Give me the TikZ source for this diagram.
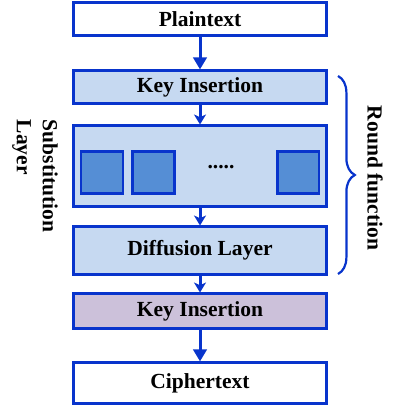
\documentclass[tikz,border=0pt]{standalone}
\usepackage{fontspec}
\setmainfont{Liberation Serif}
\usetikzlibrary{arrows.meta,decorations.pathreplacing}
\definecolor{lineblue}{RGB}{8,52,204}
\definecolor{boxblue}{RGB}{198,217,241}
\definecolor{sboxblue}{RGB}{85,142,213}
\definecolor{boxlilac}{RGB}{204,193,218}
\begin{document}
\begin{tikzpicture}[x=0.025cm,y=-0.025cm,
    block/.style={draw=lineblue, line width=0.075cm, minimum width=6.33cm, inner sep=0pt,
        font=\fontsize{15.3}{18.4}\selectfont\bfseries},
    sbox/.style={draw=lineblue, fill=sboxblue, line width=0.065cm, minimum size=1.04cm, inner sep=0pt},
    flow/.style={draw=lineblue, line width=0.075cm, -{Triangle[width=0.33cm,length=0.3cm]}},
    shortflow/.style={draw=lineblue, line width=0.075cm, -{Stealth[width=0.3cm,length=0.25cm,inset=0.07cm]}},
    label/.style={font=\fontsize{15.3}{18.4}\selectfont\bfseries, rotate=-90, inner sep=0pt}]
    \useasboundingbox (0,0) rectangle (400,406);
    \node[block, fill=white, minimum height=0.8cm] (plain) at (200,19) {Plaintext};
    \node[block, fill=boxblue, minimum height=0.8cm] (keyins) at (200,87) {Key Insertion};
    \node[block, fill=boxblue, minimum height=2.0cm] (subst) at (200,166) {};
    \node[sbox] (sa) at (102,172.5) {};
    \node[sbox] (sb) at (153.5,172.5) {};
    \node[sbox] (sn) at (298,172.5) {};
    \node[font=\fontsize{15.3}{18.4}\selectfont\bfseries] (dots) at (221,167) {.....};
    \node[block, fill=boxblue, minimum height=1.175cm] (diff) at (200,250.5) {Diffusion Layer};
    \node[block, fill=boxlilac, minimum height=0.85cm] (keyout) at (200,311) {Key Insertion};
    \node[block, fill=white, minimum height=1.0cm] (cipher) at (200,383) {Ciphertext};
    \draw[flow] (plain) -- (keyins);
    \draw[shortflow] (keyins) -- (subst);
    \draw[shortflow] (subst) -- (diff);
    \draw[shortflow] (diff) -- (keyout);
    \draw[flow] (keyout) -- (cipher);
    % round function
    \coordinate (bracetop) at (338,76);
    \coordinate (bracebot) at (338,274);
    \draw[lineblue, line width=0.055cm, decoration={brace, amplitude=0.42cm}, decorate] (bracetop) -- (bracebot);
    \node[label] (round) at (375,178) {Round function};
    \node[label, align=left] (sublabel) at (35,176) {Substitution\\Layer};
\end{tikzpicture}
\end{document}
